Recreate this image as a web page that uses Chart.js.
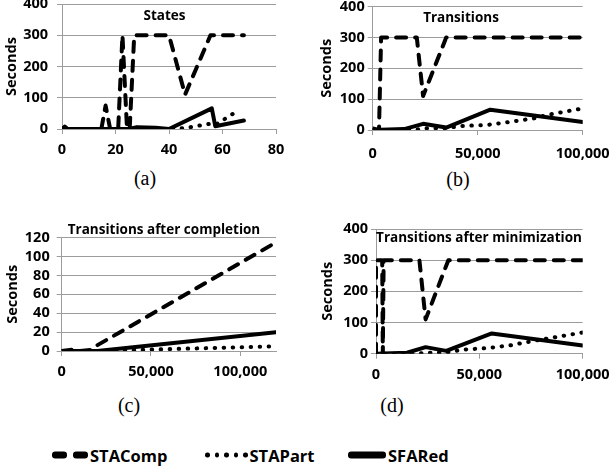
<!DOCTYPE html>
<html>
<head>
<meta charset="utf-8">
<script src="https://cdn.jsdelivr.net/npm/chart.js@4/dist/chart.umd.min.js"></script>
<style>
  body { margin: 0; background: #fff; width: 610px; height: 471px; position: relative; overflow: hidden; font-family: "Open Sans", sans-serif; }
  canvas { position: absolute; }
  .cap { position: absolute; font-family: "Liberation Serif", serif; font-size: 20px; transform: translate(-50%, -50%); line-height: 1; }
  .item { position: absolute; top: 455px; transform: translateY(-50%); display: flex; align-items: center; font-weight: 700; font-size: 16.5px; color: #000; }
  .key { display: flex; align-items: center; margin-right: 2px; }
  .dash { width: 15px; height: 6.5px; border-radius: 3.25px; background: #000; margin-right: 6px; }
  .dash:last-child { margin-right: 0; }
  .dot { width: 4.5px; height: 4.5px; border-radius: 50%; background: #000; margin-right: 5px; }
  .dot:last-child { margin-right: 0; }
  .bar { width: 38px; height: 6.5px; border-radius: 3.25px; background: #000; }
</style>
</head>
<body>
<canvas id="ca" width="300" height="162" style="left:0;top:0"></canvas>
<canvas id="cb" width="310" height="162" style="left:300px;top:0"></canvas>
<canvas id="cc" width="300" height="186" style="left:0;top:200px"></canvas>
<canvas id="cd" width="310" height="186" style="left:300px;top:200px"></canvas>

<div class="cap" style="left:145px;top:178px">(a)</div>
<div class="cap" style="left:458px;top:179px">(b)</div>
<div class="cap" style="left:129px;top:405px">(c)</div>
<div class="cap" style="left:392px;top:405px">(d)</div>

<div class="item" style="left:52px"><span class="key"><i class="dash"></i><i class="dash"></i></span><span id="n0"></span></div>
<div class="item" style="left:205px"><span class="key"><i class="dot"></i><i class="dot"></i><i class="dot"></i><i class="dot"></i><i class="dot"></i></span><span id="n1"></span></div>
<div class="item" style="left:348px"><span class="key"><i class="bar"></i></span><span id="n2"></span></div>

<script>
const seriesNames = ['STAComp', 'STAPart', 'SFARed'];

// (a) States
const statesComp = [[1, 8], [2, 0], [14.7, 0], [16.3, 75], [18, 0], [21, 0], [22.6, 300], [24.3, 0], [25.3, 0], [27, 300], [40, 300], [46, 110], [55.5, 300], [68, 300]];
const statesPart = [[1, 0], [20, 0], [40, 0], [46, 3], [55.5, 17], [57.5, 14], [66, 60]];
const statesRed = [[0, 2], [1, 5], [2, 0], [25, 0], [28, 6], [35, 4], [40, 0], [56, 66], [57.3, 9], [68, 27]];

// (b) Transitions
const transComp = [[0, 5], [3000, 0], [4000, 300], [21000, 300], [24000, 110], [35000, 300], [100000, 300]];
const transPart = [[0, 0], [20000, 0], [25000, 6], [35000, 6], [42000, 13], [54000, 16], [62000, 23], [70000, 31], [77000, 38], [83000, 49], [100000, 70]];
const transRed = [[0, 0], [15000, 3], [24000, 20], [35000, 8], [56000, 66], [100000, 26]];

// (c) Transitions after completion
const complComp = [[0, 0], [8000, 2], [10000, 0], [16000, 1], [18000, 4], [120000, 115]];
const complPart = [[0, 0], [20000, 0], [120000, 5]];
const complRed = [[0, 0], [20000, 0], [120000, 20]];

// (d) Transitions after minimization
const minComp = [[0, 0], [0, 300], [3000, 300], [3300, 0], [3700, 300], [21000, 300], [24000, 110], [35000, 300], [100000, 300]];
const minPart = [[0, 0], [20000, 0], [24000, 3], [35000, 5], [42000, 13], [54000, 18], [65000, 27], [77000, 42], [100000, 68]];
const minRed = [[0, 0], [15000, 3], [24000, 21], [34000, 9], [56000, 65], [100000, 26]];

// tick labels
const ticksStates = [0, 20, 40, 60, 80];
const ticksTrans = [0, 50000, 100000];
const ticksSec = [0, 100, 200, 300, 400];
const ticksSecC = [0, 20, 40, 60, 80, 100, 120];

const GRID = '#9c9c9c';
const tickFont = { family: 'Open Sans', weight: 'bold', size: 14.5 };
const fmt = v => Number(v).toLocaleString('en-US');

document.getElementById('n0').textContent = seriesNames[0];
document.getElementById('n1').textContent = seriesNames[1];
document.getElementById('n2').textContent = seriesNames[2];

// title drawn inside the plot, like the spreadsheet original
const innerTitle = {
  id: 'innerTitle',
  afterDraw(chart, args, opts) {
    const ctx = chart.ctx;
    ctx.save();
    ctx.font = 'bold 13.5px "Open Sans"';
    ctx.fillStyle = '#000';
    ctx.textAlign = 'center';
    ctx.textBaseline = 'middle';
    ctx.fillText(opts.text, opts.x, opts.y);
    ctx.restore();
  }
};

function ds(name, pts, dash, width) {
  return {
    label: name,
    data: pts.map(p => ({ x: p[0], y: p[1] })),
    borderColor: '#000',
    borderWidth: width,
    borderDash: dash,
    borderCapStyle: 'round',
    borderJoinStyle: 'round',
    pointRadius: 0,
    tension: 0,
    fill: false
  };
}

function panel(id, o) {
  return new Chart(document.getElementById(id), {
    type: 'line',
    data: {
      datasets: [
        ds(seriesNames[0], o.comp, [10, 9], 4),
        ds(seriesNames[1], o.part, [0.5, 8.5], 4),
        ds(seriesNames[2], o.red, [], 4)
      ]
    },
    options: {
      responsive: false,
      animation: false,
      layout: { padding: { left: 0, top: o.padT, right: o.padR, bottom: 0 } },
      plugins: {
        legend: { display: false },
        tooltip: { enabled: false },
        innerTitle: { text: o.title, x: o.tx, y: o.ty }
      },
      scales: {
        x: {
          type: 'linear',
          min: 0,
          max: o.xMax,
          afterBuildTicks(s) { s.ticks = o.xTicks.map(v => ({ value: v })); },
          afterFit(s) { s.height = o.xH; s.paddingLeft = 0; s.paddingRight = 0; },
          grid: { drawOnChartArea: false, tickLength: 5, color: GRID },
          border: { color: GRID },
          ticks: { padding: o.xPad, font: tickFont, color: '#000', maxRotation: 0, autoSkip: false, callback: fmt }
        },
        y: {
          min: 0,
          max: o.yMax,
          afterBuildTicks(s) { s.ticks = o.yTicks.map(v => ({ value: v })); },
          afterFit(s) { s.width = o.yW; s.paddingTop = 0; s.paddingBottom = 0; },
          grid: { tickLength: 5, color: GRID },
          border: { color: GRID },
          ticks: { padding: o.yPad, font: tickFont, color: '#000', autoSkip: false, callback: fmt },
          title: {
            display: true,
            text: 'Seconds',
            color: '#000',
            font: { family: 'Open Sans', weight: 'bold', size: 14.5 },
            padding: { top: o.titlePad, bottom: 0 }
          }
        }
      }
    },
    plugins: [innerTitle]
  });
}

panel('ca', {
  comp: statesComp, part: statesPart, red: statesRed,
  title: 'States', tx: 164.5, ty: 16,
  xMax: 80, xTicks: ticksStates, yMax: 400, yTicks: ticksSec,
  padT: 4, padR: 24, yW: 62, xH: 33, xPad: 7, yPad: 9, titlePad: 3.6
});

panel('cb', {
  comp: transComp, part: transPart, red: transRed,
  title: 'Transitions', tx: 161, ty: 18.5,
  xMax: 100000, xTicks: ticksTrans, yMax: 400, yTicks: ticksSec,
  padT: 6.7, padR: 27.3, yW: 72.7, xH: 32, xPad: 10, yPad: 3, titlePad: 18
});

panel('cc', {
  comp: complComp, part: complPart, red: complRed,
  title: 'Transitions after completion', tx: 164, ty: 30,
  xMax: 120000, xTicks: ticksTrans, yMax: 120, yTicks: ticksSecC,
  padT: 37.7, padR: 24, yW: 61.7, xH: 35, xPad: 7.6, yPad: 7, titlePad: 4.6
});

panel('cd', {
  comp: minComp, part: minPart, red: minRed,
  title: 'Transitions after minimization', tx: 179, ty: 38.5,
  xMax: 100000, xTicks: ticksTrans, yMax: 400, yTicks: ticksSec,
  padT: 29, padR: 27.3, yW: 76, xH: 32.3, xPad: 7.6, yPad: 3, titlePad: 19.6
});
</script>
</body>
</html>
